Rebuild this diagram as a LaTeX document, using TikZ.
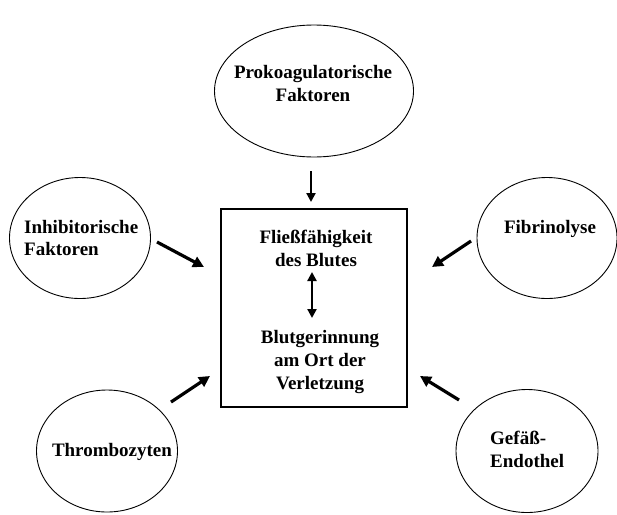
\documentclass[tikz,border=0pt]{standalone}
\usepackage{fontspec}
\setmainfont{Liberation Serif}
\usetikzlibrary{shapes.geometric,arrows.meta}
\begin{document}
\begin{tikzpicture}[x=1pt,y=-1pt,
  oval/.style={draw,ellipse,line width=0.9pt,inner sep=0pt},
  lbl/.style={font=\fontsize{19}{23}\selectfont\bfseries,inner sep=0pt},
  boxstyle/.style={draw,rectangle,line width=1.3pt,inner sep=0pt,minimum width=186pt,minimum height=198pt},
  thickarrow/.style={line width=3.2pt,-{Triangle[length=11pt,width=11pt]}},
  thinarrow/.style={line width=2.2pt,-{Triangle[length=9pt,width=9pt]}},
  dblarrow/.style={line width=2.2pt,{Triangle[length=9pt,width=9pt]}-{Triangle[length=9pt,width=9pt]}}]
\useasboundingbox (0,0) rectangle (617,514);
% ellipses
\node[oval,minimum width=199pt,minimum height=132pt] (pro) at (314,91) {};
\node[oval,minimum width=141pt,minimum height=121pt] (inh) at (80,238) {};
\node[oval,minimum width=140pt,minimum height=121pt] (fib) at (547,238) {};
\node[oval,minimum width=141pt,minimum height=122pt] (thr) at (107,451) {};
\node[oval,minimum width=142pt,minimum height=123pt] (gef) at (527,451) {};
% center box
\node[boxstyle] (box) at (314,308) {};
% labels
\node[lbl,align=center] (tpro) at (313,83) {Prokoagulatorische\\Faktoren};
\node[lbl,align=left,anchor=west,font=\fontsize{19}{21.5}\selectfont\bfseries] (tinh) at (24,238) {Inhibitorische\\Faktoren};
\node[lbl] (tfib) at (550,229) {Fibrinolyse};
\node[lbl] (tthr) at (112,452) {Thrombozyten};
\node[lbl,align=left,anchor=west] (tgef) at (490,449) {Gefäß-\\Endothel};
\node[lbl,align=center] (tflow) at (316,248) {Fließfähigkeit\\des Blutes};
\node[lbl,align=center] (tgerin) at (320,362) {Blutgerinnung\\am Ort der\\Verletzung};
% arrow end points
\coordinate (p1) at (311,171); \coordinate (p2) at (311,202);
\coordinate (i1) at (157,242); \coordinate (i2) at (204,267);
\coordinate (f1) at (471,241); \coordinate (f2) at (432,267);
\coordinate (t1) at (171,402); \coordinate (t2) at (210,376);
\coordinate (g1) at (459,400); \coordinate (g2) at (420,376);
\coordinate (d1) at (312,272); \coordinate (d2) at (312,318);
% arrows
\draw[thinarrow] (p1) -- (p2);
\draw[thickarrow] (i1) -- (i2);
\draw[thickarrow] (f1) -- (f2);
\draw[thickarrow] (t1) -- (t2);
\draw[thickarrow] (g1) -- (g2);
\draw[dblarrow] (d1) -- (d2);
\end{tikzpicture}
\end{document}
